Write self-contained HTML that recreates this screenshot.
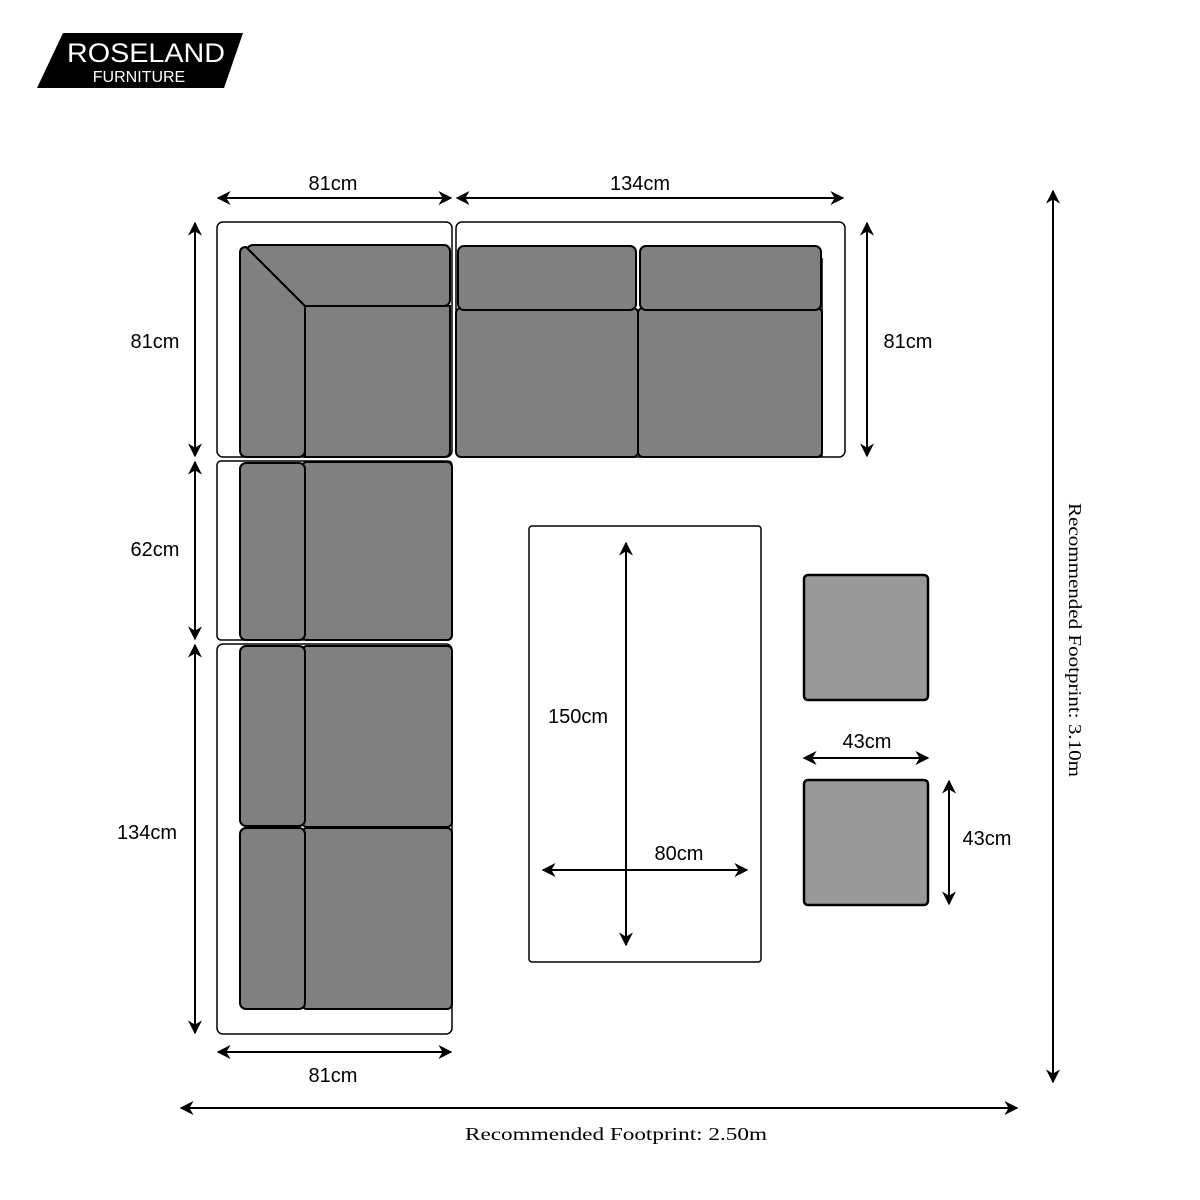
<!DOCTYPE html>
<html><head><meta charset="utf-8"><style>html,body{margin:0;padding:0;background:#fff}svg{display:block}</style></head>
<body>
<svg width="1200" height="1200" viewBox="0 0 1200 1200" xmlns="http://www.w3.org/2000/svg">
<defs>
<marker id="a" viewBox="0 0 10 10" refX="9" refY="5" markerWidth="7" markerHeight="7" orient="auto-start-reverse">
<path d="M0,0 L10,5 L0,10 L3,5 z" fill="#000"/>
</marker>
</defs>
<rect width="1200" height="1200" fill="#fff"/>
<polygon points="63,33 243,33 224,88 37,88" fill="#000"/>
<text x="146" y="62" font-family="Liberation Sans, sans-serif" font-size="27" fill="#fff" text-anchor="middle" textLength="158" lengthAdjust="spacingAndGlyphs">ROSELAND</text>
<text x="139" y="82" font-family="Liberation Sans, sans-serif" font-size="16" fill="#fff" text-anchor="middle">FURNITURE</text>

<g stroke="#000" stroke-width="2" fill="none">
<rect x="217" y="222" width="235" height="235" rx="6" stroke-width="1.5"/>
<rect x="456" y="222" width="389" height="235" rx="6" stroke-width="1.5"/>
<rect x="217" y="461" width="235" height="179" rx="4" stroke-width="1.5"/>
<rect x="217" y="644" width="235" height="390" rx="6" stroke-width="1.5"/>
<line x1="822" y1="258" x2="822" y2="457" stroke-width="1.5"/>
</g>
<g stroke="#000" stroke-width="2" fill="#808080">
<path d="M305,306 L450,306 L450,451 Q450,457 444,457 L305,457 Z"/>
<rect x="247" y="245" width="203" height="61" rx="6"/>
<path d="M246,247 L305,306 L305,450 Q305,457 298,457 L247,457 Q240,457 240,450 L240,253 Q240,247 246,247 Z"/>
<line x1="246" y1="247" x2="305" y2="306"/>
<rect x="456" y="308" width="182" height="149" rx="5"/>
<rect x="638" y="308" width="184" height="149" rx="5"/>
<rect x="458" y="246" width="178" height="64" rx="6"/>
<rect x="640" y="246" width="181" height="64" rx="6"/>
<rect x="302" y="462" width="150" height="178" rx="5"/>
<rect x="240" y="463" width="65" height="177" rx="6"/>
<rect x="302" y="646" width="150" height="181" rx="5"/>
<rect x="302" y="828" width="150" height="181" rx="5"/>
<rect x="240" y="646" width="65" height="180" rx="6"/>
<rect x="240" y="828" width="65" height="181" rx="6"/>
</g>
<rect x="529" y="526" width="232" height="436" rx="3" fill="none" stroke="#000" stroke-width="1.5"/>
<rect x="804" y="575" width="124" height="125" rx="4" fill="#999" stroke="#000" stroke-width="2.5"/>
<rect x="804" y="780" width="124" height="125" rx="4" fill="#999" stroke="#000" stroke-width="2.5"/>

<g stroke="#000" stroke-width="2" marker-start="url(#a)" marker-end="url(#a)">
<line x1="218" y1="198" x2="451" y2="198"/>
<line x1="457" y1="198" x2="843" y2="198"/>
<line x1="195" y1="223" x2="195" y2="456"/>
<line x1="195" y1="462" x2="195" y2="639"/>
<line x1="195" y1="645" x2="195" y2="1033"/>
<line x1="218" y1="1052" x2="451" y2="1052"/>
<line x1="867" y1="223" x2="867" y2="456"/>
<line x1="1053" y1="191" x2="1053" y2="1082"/>
<line x1="181" y1="1108" x2="1017" y2="1108"/>
<line x1="626" y1="543" x2="626" y2="945"/>
<line x1="543" y1="870" x2="747" y2="870"/>
<line x1="804" y1="758" x2="928" y2="758"/>
<line x1="949" y1="781" x2="949" y2="904"/>
</g>

<g font-family="Liberation Sans, sans-serif" font-size="20" fill="#000" text-anchor="middle">
<text x="333" y="190">81cm</text>
<text x="640" y="190">134cm</text>
<text x="155" y="348">81cm</text>
<text x="155" y="556">62cm</text>
<text x="147" y="839">134cm</text>
<text x="333" y="1082">81cm</text>
<text x="908" y="348">81cm</text>
<text x="578" y="723">150cm</text>
<text x="679" y="860">80cm</text>
<text x="867" y="748">43cm</text>
<text x="987" y="845">43cm</text>
</g>
<g font-family="Liberation Serif, serif" font-size="18" fill="#000" text-anchor="middle">
<text x="616" y="1140" textLength="302" lengthAdjust="spacingAndGlyphs">Recommended Footprint: 2.50m</text>
<text transform="translate(1069,640) rotate(90)" x="0" y="0" textLength="274" lengthAdjust="spacingAndGlyphs">Recommended Footprint: 3.10m</text>
</g>
</svg>
</body></html>
